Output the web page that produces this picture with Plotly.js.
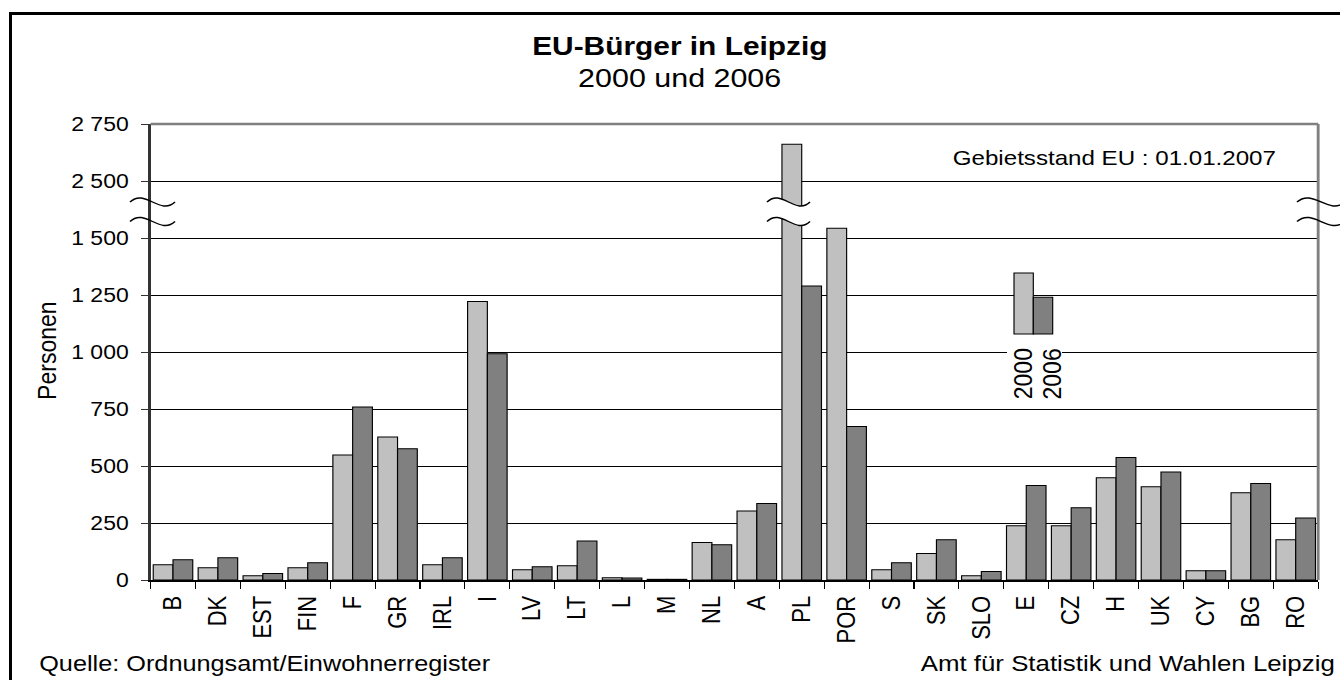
<!DOCTYPE html>
<html>
<head>
<meta charset="utf-8">
<script src="https://cdn.plot.ly/plotly-3.0.1.min.js"></script>
<style>
  html, body { margin:0; padding:0; background:#fff; overflow:hidden; }
  #wrap { position:absolute; left:0; top:0; width:1166px; height:680px; transform-origin:0 0; }
  #chart { width:1166px; height:680px; }
  #frame { position:absolute; left:9px; top:12px; width:1400px; height:720px;
           border-left:3px solid #000; border-top:3px solid #000; pointer-events:none; }
</style>
</head>
<body>
<div id="wrap"><div id="chart"></div></div>
<div id="frame"></div>
<script>
// ---------- data ----------
const countries = ["B","DK","EST","FIN","F","GR","IRL","I","LV","LT","L","M","NL","A","PL","POR","S","SK","SLO","E","CZ","H","UK","CY","BG","RO"];
const values2000 = [67,54,19,54,548,627,67,1222,45,63,10,3,164,303,2661,1543,45,116,19,238,238,449,409,41,383,177];
const values2006 = [89,98,28,76,759,576,98,992,58,171,9,3,155,335,1289,673,76,177,37,414,317,537,474,41,423,272];
const yTickValues = [0,250,500,750,1000,1250,1500,2500,2750];
const yTickLabels = ["0","250","500","750","1 000","1 250","1 500","2 500","2 750"];
const seriesNames = ["2000","2006"];

// broken axis: the range 1500..2500 is compressed (2500 drawn where 1750 would be)
const BREAK_FROM = 2500, BREAK_CUT = 750;
const disp = v => (v >= BREAK_FROM ? v - BREAK_CUT : v);

// ---------- geometry helpers (screen px -> paper) ----------
const S = 1340 / 1166;
document.getElementById('wrap').style.transform = 'scaleX(' + S + ')';
const ML = 131, MT = 124, MR = 19, MB = 100, W = 1166, H = 680;
const PW = W - ML - MR, PH = H - MT - MB;
const px = X => +((X / S - ML) / PW).toFixed(5);
const py = Y => +((MT + PH - Y) / PH).toFixed(5);

function wave(X0, X1, Yc, h) {
  const w = X1 - X0;
  return `${px(X0)},${py(Yc)} C${px(X0 + w/3)},${py(Yc - h)} ${px(X0 + 2*w/3)},${py(Yc + h)} ${px(X1)},${py(Yc)}`;
}
function waveRev(X0, X1, Yc, h) {
  const w = X1 - X0;
  return `C${px(X0 + 2*w/3)},${py(Yc + h)} ${px(X0 + w/3)},${py(Yc - h)} ${px(X0)},${py(Yc)}`;
}

const FONT = 'Liberation Sans, Arial, Helvetica, sans-serif';

const traces = [
  { type:'bar', name:seriesNames[0], x:countries, y:values2000.map(disp),
    marker:{ color:'#C0C0C0', line:{ color:'#000', width:1 } }, hoverinfo:'skip' },
  { type:'bar', name:seriesNames[1], x:countries, y:values2006.map(disp),
    marker:{ color:'#808080', line:{ color:'#000', width:1 } }, hoverinfo:'skip' }
];

const waveTop = 202, waveBot = 221.5, H_W = 14;
const breaks = [[130,175],[767,810],[1297,1345]];
const shapes = [];
// white background behind legend labels
shapes.push({ type:'rect', xref:'paper', yref:'paper', x0:px(1007), x1:px(1062), y0:py(402), y1:py(345),
  fillcolor:'#fff', line:{ width:0 }, layer:'above' });
// mini legend bars
shapes.push({ type:'rect', xref:'paper', yref:'paper', x0:px(1014), x1:px(1033.3), y0:py(334), y1:py(273),
  fillcolor:'#C0C0C0', line:{ color:'#000', width:1 }, layer:'above' });
shapes.push({ type:'rect', xref:'paper', yref:'paper', x0:px(1033.3), x1:px(1052.7), y0:py(334), y1:py(297.3),
  fillcolor:'#808080', line:{ color:'#000', width:1 }, layer:'above' });
// plot frame top & right (grey)
shapes.push({ type:'line', xref:'paper', yref:'paper', x0:0, x1:1, y0:1, y1:1, line:{ color:'#808080', width:2.5 }, layer:'above' });
shapes.push({ type:'line', xref:'paper', yref:'paper', x0:1, x1:1, y0:0, y1:1, line:{ color:'#808080', width:2.5 }, layer:'above' });
// white gap across PL bar
shapes.push({ type:'path', xref:'paper', yref:'paper', layer:'above', fillcolor:'#fff', line:{ width:0 },
  path: 'M' + wave(767, 810, waveTop, H_W) + ` L${px(810)},${py(waveBot)} ` + waveRev(767, 810, waveBot, H_W) + ' Z' });
breaks.forEach(([a, b]) => {
  [waveTop, waveBot].forEach(yc => {
    shapes.push({ type:'path', xref:'paper', yref:'paper', layer:'above',
      path:'M' + wave(a, b, yc, H_W), line:{ color:'#000', width:1.4 } });
  });
});

const ann = (text, X, Y, size, extra) => Object.assign({
  text, x:px(X), y:py(Y), xref:'paper', yref:'paper', showarrow:false,
  xanchor:'center', yanchor:'middle', font:{ family:FONT, size, color:'#000' }
}, extra || {});

const annotations = [
  ann('<b>EU-Bürger in Leipzig</b>', 680, 46, 26),
  ann('2000 und 2006', 680, 77.5, 26.5),
  ann('Gebietsstand EU : 01.01.2007', 1114, 157.5, 21),
  ann('Personen', 47, 351, 23, { textangle:-90 }),
  ann(seriesNames[0], 1022.5, 373.5, 23, { textangle:-90 }),
  ann(seriesNames[1], 1051.5, 373.5, 23, { textangle:-90 }),
  ann('Quelle: Ordnungsamt/Einwohnerregister', 37, 664, 22, { xanchor:'left' }),
  ann('Amt für Statistik und Wahlen Leipzig', 1338, 664, 22.5, { xanchor:'right' })
];

const layout = {
  width:W, height:H,
  margin:{ l:ML, r:MR, t:MT, b:MB, pad:0 },
  paper_bgcolor:'#fff', plot_bgcolor:'#fff',
  showlegend:false,
  barmode:'group', bargap:0.12, bargroupgap:0,
  font:{ family:FONT, color:'#000' },
  xaxis:{ type:'category', tickangle:-90, tickson:'boundaries', ticks:'outside', ticklen:7,
    tickcolor:'#000', tickwidth:1, showline:true, linecolor:'#000', linewidth:2, ticklabelstandoff:5,
    tickfont:{ family:FONT, size:22, color:'#000' }, showgrid:false, fixedrange:true },
  yaxis:{ range:[0, disp(2750)], tickvals:yTickValues.map(disp), ticktext:yTickLabels,
    ticks:'outside', ticklen:6, tickcolor:'#333', tickwidth:1, ticklabelstandoff:7,
    showline:true, linecolor:'#333', linewidth:2, showgrid:true, gridcolor:'#000', gridwidth:1,
    zeroline:false, tickfont:{ family:FONT, size:20, color:'#000' }, fixedrange:true },
  shapes, annotations
};

Plotly.newPlot('chart', traces, layout, { displayModeBar:false, staticPlot:true });
</script>
</body>
</html>
